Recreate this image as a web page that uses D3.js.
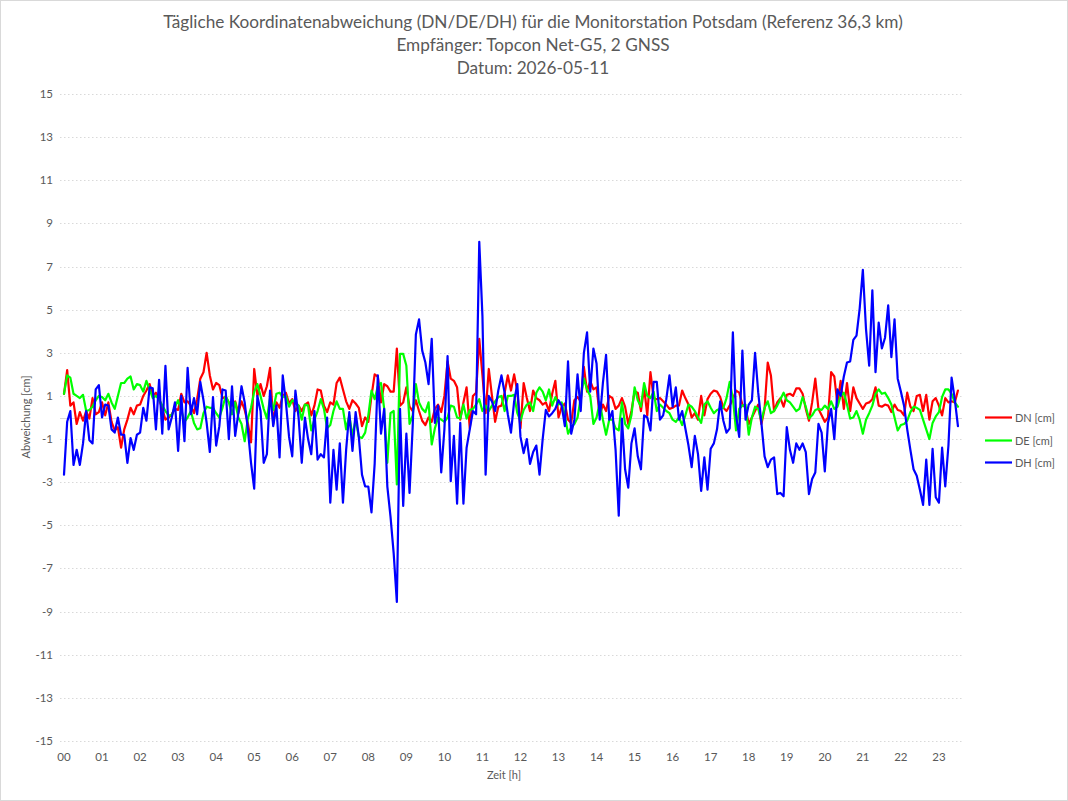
<!DOCTYPE html>
<html>
<head>
<meta charset="utf-8">
<script src="https://cdn.jsdelivr.net/npm/d3@7"></script>
<style>
html,body{margin:0;padding:0;background:#fff;}
svg{display:block;font-family:Lato,"Open Sans","Liberation Sans",sans-serif;}
</style>
</head>
<body>
<svg id="chart" width="1068" height="801"></svg>
<script>
// ---------------- data ----------------
const titleLines = [
  "Tägliche Koordinatenabweichung (DN/DE/DH) für die Monitorstation Potsdam (Referenz 36,3 km)",
  "Empfänger: Topcon Net-G5, 2 GNSS",
  "Datum: 2026-05-11"
];
const xAxisTitle = "Zeit [h]";
const yAxisTitle = "Abweichung [cm]";
const hourLabels = ["00","01","02","03","04","05","06","07","08","09","10","11",
                    "12","13","14","15","16","17","18","19","20","21","22","23"];
const yTickValues = [15,13,11,9,7,5,3,1,-1,-3,-5,-7,-9,-11,-13,-15];
const sampleMinutes = 5; // one value every 5 minutes, starting 00:00
const seriesNames = ["DN [cm]","DE [cm]","DH [cm]"];

const DN = [
 1.1,2.2,0.55,0.7,-0.3,0.25,-0.15,0.3,-0.05,0.9,0.15,0.25,0.7,0.1,0.7,-0.2,-0.6,-0.45,-1.4,-0.55,-0.1,0.45,0.15,0.55,0.6,1.0,1.25,1.55,1.0,1.15,0.85,0.4,-0.1,0.0,0.15,0.4,
 0.35,1.1,0.7,0.75,0.55,0.2,0.85,1.8,2.1,3.0,1.95,1.3,1.6,1.5,0.9,0.95,0.7,0.55,0.75,0.2,0.75,0.35,-0.25,-1.15,2.25,1.0,1.55,1.0,1.45,2.3,-0.3,0.7,0.45,1.0,1.15,0.65,
 0.85,0.3,0.55,0.3,0.6,0.7,0.1,0.55,1.3,1.25,0.55,0.25,0.7,0.6,1.6,1.85,1.3,0.75,0.4,0.8,0.65,0.45,-0.4,0.0,-0.2,1.0,2.0,1.9,0.7,1.55,1.45,1.2,1.2,3.2,0.55,0.7,
 1.4,0.5,0.3,0.8,0.3,-0.15,-0.35,0.0,-0.2,0.4,0.6,0.25,1.0,2.6,1.8,1.7,1.4,-0.1,0.7,1.4,-0.5,1.0,1.15,3.65,1.95,0.2,2.25,1.0,-0.2,0.5,0.55,1.15,1.95,1.25,2.0,1.2,
 -0.5,1.6,0.9,0.3,1.25,0.9,0.8,0.6,0.7,0.3,1.1,1.7,0.0,0.5,0.65,-0.1,-0.25,0.8,0.95,0.75,2.35,1.2,1.7,1.3,1.4,0.1,0.6,0.3,1.0,0.9,0.4,0.55,0.9,0.5,-0.3,0.3,1.2,
 1.15,0.3,1.4,0.1,2.1,0.9,0.85,0.9,0.75,0.6,0.4,0.45,0.55,0.55,1.25,0.9,0.6,0.0,0.2,-0.1,1.0,0.1,0.85,1.1,1.25,1.2,0.95,0.45,0.3,0.55,0.85,1.25,1.15,0.6,0.45,-0.3,
 0.0,0.3,0.6,-0.3,0.4,2.55,1.95,0.3,0.7,0.9,0.5,1.05,1.1,1.0,1.35,1.35,1.1,0.4,-0.15,0.7,1.8,0.4,0.1,-0.2,0.0,2.1,1.9,0.6,1.7,0.4,1.6,0.3,1.4,0.9,0.65,0.4,
 0.65,0.7,0.85,1.4,0.55,0.5,0.6,0.55,0.25,0.6,0.35,0.3,0.1,1.15,0.5,0.3,1.0,1.05,0.3,1.05,-0.1,0.75,0.9,0.55,0.1,0.9,0.7,0.75,0.7,1.25
];
const DE = [
 1.1,1.95,1.85,1.1,1.0,0.9,1.05,0.3,0.35,0.5,0.8,1.0,0.95,0.8,1.1,0.7,0.4,1.0,1.6,1.6,1.8,1.9,1.3,1.55,1.5,1.2,1.7,1.3,0.9,1.0,0.85,0.55,0.3,0.1,0.1,0.5,
 0.8,0.35,-0.2,0.0,0.3,-0.25,-0.55,-0.5,0.2,0.5,0.45,0.45,0.2,0.0,0.45,1.0,0.7,0.15,0.7,0.0,-0.3,-1.1,-0.05,0.45,1.2,1.55,1.0,0.4,-0.05,0.9,0.35,1.1,1.15,0.95,1.0,0.5,
 0.8,0.7,0.55,-0.1,0.6,0.55,-0.6,-0.1,0.3,0.85,0.4,-0.5,-0.35,0.3,0.75,0.4,0.4,-0.55,0.1,-0.85,-0.1,-0.9,-0.95,-0.7,0.1,1.25,0.85,1.45,1.6,0.4,-2.1,0.2,0.3,-3.1,2.95,2.95,
 2.4,-0.3,0.1,1.55,0.7,0.4,0.25,0.7,-1.25,-0.5,0.0,-0.1,-0.2,0.0,0.55,0.5,0.0,-0.05,0.6,-0.05,0.35,0.4,0.6,0.85,0.3,0.55,0.3,0.55,0.75,0.95,1.0,0.3,1.0,1.0,1.05,0.2,
 -0.15,0.35,0.6,0.7,0.3,1.15,1.4,1.2,0.8,1.3,0.55,0.95,0.6,0.7,0.1,-0.75,-0.45,-0.3,0.0,0.9,1.8,1.3,1.0,-0.3,0.0,0.7,-0.1,-0.8,-0.1,-0.1,-0.5,-0.6,0.7,-0.3,-0.5,0.1,1.4,
 0.8,0.5,1.6,1.0,0.9,1.2,0.3,0.6,0.45,0.3,0.2,-0.1,-0.2,0.0,-0.35,0.1,0.6,0.5,0.3,0.0,-0.25,0.6,0.75,0.45,0.2,0.35,0.4,0.45,0.9,1.65,0.9,-0.6,0.4,0.55,0.6,-0.8,
 0.0,0.5,0.4,-0.15,0.45,0.75,0.2,0.3,0.55,0.85,1.15,0.8,0.7,0.5,0.3,0.4,0.95,0.5,-0.05,0.1,0.35,0.4,0.35,0.55,0.4,0.75,0.4,0.5,1.0,1.15,0.6,-0.05,0.0,0.3,-0.1,-0.75,
 -0.1,0.2,0.55,1.1,1.3,1.1,1.15,0.9,0.6,0.0,-0.6,-0.35,-0.3,-0.15,0.25,0.5,0.45,0.35,-0.1,-0.55,-1.0,-0.25,0.05,0.25,0.95,1.3,1.3,1.1,0.7,0.5
];
const DH = [
 -2.65,-0.2,0.3,-2.2,-1.5,-2.2,-1.2,0.3,-1.05,-1.2,1.3,1.5,0.0,0.6,0.55,-0.55,-0.7,0.0,-0.8,-0.8,-2.1,-0.95,-1.5,-0.8,-0.7,0.45,-0.15,1.4,1.35,-0.55,1.75,-0.75,2.4,-0.55,0.0,0.7,
 -1.55,1.0,-1.1,2.3,0.15,0.9,0.15,1.65,0.8,-0.25,-1.6,0.95,-1.3,-0.4,1.3,1.25,-1.0,1.45,-0.85,0.2,1.45,0.7,-0.55,-2.1,-3.3,1.0,0.3,-2.1,-1.7,1.25,-0.4,0.55,-1.85,1.95,0.7,-0.9,
 -1.8,1.25,0.0,-2.1,0.0,-1.0,-1.7,0.3,-1.95,-1.7,-1.85,0.0,-3.95,-1.5,-3.35,-1.2,-3.95,-1.5,0.25,-1.55,0.25,-0.9,-2.65,-3.2,-3.2,-4.4,-2.15,1.95,-0.75,0.4,-3.2,-4.6,-6.3,-8.55,0.4,-4.1,
 -0.75,-3.5,-0.4,3.85,4.55,3.1,2.55,1.55,3.65,-0.25,0.55,-2.55,-0.55,2.85,-2.95,-0.85,-4.0,-0.25,-4.0,-1.4,-0.55,0.3,0.15,8.15,4.7,-2.65,1.0,0.75,0.3,1.25,1.95,1.15,0.15,-0.7,0.75,1.55,
 -0.9,-1.65,-1.0,-2.15,-1.6,-1.3,-2.65,-1.0,0.35,0.05,0.2,0.4,0.8,0.55,-0.4,2.6,-0.75,-0.1,2.0,0.3,3.0,3.95,1.2,3.2,2.5,-0.1,1.6,2.9,-0.1,0.3,-1.5,-4.55,-0.05,-2.4,-3.25,-1.2,-0.5,
 -1.8,-2.4,0.1,0.0,-0.6,1.65,1.65,-0.1,0.1,0.85,1.95,0.5,1.4,-0.1,0.3,-0.5,-1.3,-2.3,-0.85,-1.7,-3.4,-1.85,-3.35,-1.45,-1.2,-0.55,0.75,-0.15,-0.7,-0.5,3.95,0.1,-0.9,3.1,-0.1,0.6,
 0.8,3.0,1.15,-0.25,-1.8,-2.3,-1.95,-1.85,-3.55,-3.5,-3.65,-0.45,-1.5,-2.1,-1.2,-1.5,-1.2,-1.6,-3.55,-2.85,-2.55,-0.3,-0.7,-2.5,-0.25,0.4,-1.0,1.3,1.0,1.9,2.55,2.6,3.6,3.8,5.05,6.85,
 4.1,2.4,5.9,2.1,4.4,3.2,3.7,5.2,2.8,4.55,1.8,1.2,0.55,-0.55,-1.5,-2.4,-2.7,-3.35,-4.05,-1.95,-4.05,-1.45,-3.7,-3.95,-1.4,-3.2,-1.3,1.85,0.85,-0.4
];
const seriesValues = [DN, DE, DH];

// ---------------- styles ----------------
const seriesColors = ["#ff0000", "#00ff00", "#0000ff"];
const textColor = "#595959";
const gridColor = "#d9d9d9";

// ---------------- layout ----------------
const W = 1068, H = 801;
const plot = {left: 60, right: 962, top: 94, bottom: 741};
const x = d3.scaleLinear().domain([0, 24]).range([64, 64 + 24 * 38.04]);
const y = d3.scaleLinear().domain([-15, 15]).range([741, 94]);

const svg = d3.select("#chart");
svg.append("rect").attr("x", 0.5).attr("y", 0.5).attr("width", W - 1).attr("height", H - 1)
  .attr("fill", "#fff").attr("stroke", gridColor).attr("stroke-width", 1);

// title
const titleG = svg.append("g").attr("fill", textColor).attr("text-anchor", "middle");
const t0 = titleG.append("text").attr("x", 533).attr("y", 28).attr("font-size", 16).text(titleLines[0]);
let fs = 16;
const w0 = t0.node().getComputedTextLength();
if (w0 > 0) fs = Math.max(13, Math.min(19, 16 * 740 / w0));
t0.attr("font-size", fs);
titleG.append("text").attr("x", 533).attr("y", 51).attr("font-size", fs).text(titleLines[1]);
titleG.append("text").attr("x", 533).attr("y", 74).attr("font-size", fs).text(titleLines[2]);

// gridlines
svg.append("g").selectAll("line").data(yTickValues).join("line")
  .attr("x1", plot.left).attr("x2", plot.right)
  .attr("y1", d => Math.round(y(d)) + 0.5).attr("y2", d => Math.round(y(d)) + 0.5)
  .attr("stroke", gridColor).attr("stroke-width", 1).attr("stroke-dasharray", "1.5,2.5");
// zero line
svg.append("line").attr("x1", plot.left).attr("x2", plot.right)
  .attr("y1", Math.round(y(0)) + 0.5).attr("y2", Math.round(y(0)) + 0.5)
  .attr("stroke", gridColor).attr("stroke-width", 1.2);

// y tick labels
svg.append("g").selectAll("text").data(yTickValues).join("text")
  .attr("x", 53).attr("y", d => y(d) + 4).attr("text-anchor", "end")
  .attr("font-size", 11.5).attr("fill", textColor).text(d => d);

// x tick labels
svg.append("g").selectAll("text").data(hourLabels).join("text")
  .attr("x", (d, i) => x(i)).attr("y", 761).attr("text-anchor", "middle")
  .attr("font-size", 11.5).attr("fill", textColor).text(d => d);

// axis titles
svg.append("text").attr("x", 504).attr("y", 779).attr("text-anchor", "middle")
  .attr("font-size", 11).attr("fill", textColor).text(xAxisTitle);
svg.append("text").attr("transform", "translate(30,417) rotate(-90)").attr("text-anchor", "middle")
  .attr("font-size", 11).attr("fill", textColor).text(yAxisTitle);

// lines
const line = d3.line().x((d, i) => x(i * sampleMinutes / 60)).y(d => y(d));
svg.append("g").selectAll("path").data(seriesValues).join("path")
  .attr("d", d => line(d)).attr("fill", "none")
  .attr("stroke", (d, i) => seriesColors[i]).attr("stroke-width", 2.2)
  .attr("stroke-linejoin", "round").attr("stroke-linecap", "round");

// legend
const legY = [417.5, 440.5, 462.5];
const leg = svg.append("g").selectAll("g").data(seriesNames).join("g");
leg.append("line").attr("x1", 985).attr("x2", 1012)
  .attr("y1", (d, i) => legY[i]).attr("y2", (d, i) => legY[i])
  .attr("stroke", (d, i) => seriesColors[i]).attr("stroke-width", 2.2);
leg.append("text").attr("x", 1015).attr("y", (d, i) => legY[i] + 4)
  .attr("font-size", 11).attr("fill", textColor).text(d => d);
</script>
</body>
</html>
